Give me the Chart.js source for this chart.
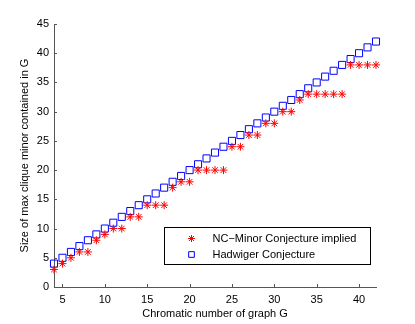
<!DOCTYPE html>
<html>
<head>
<meta charset="utf-8">
<script src="https://cdn.jsdelivr.net/npm/chart.js@4"></script>
<style>
  html, body { margin: 0; padding: 0; background: #fff; }
  #wrap { width: 415px; height: 324px; }
</style>
</head>
<body>
<div id="wrap"><canvas id="myChart" width="415" height="324"></canvas></div>
<script>
let chromatic = [4, 5, 6, 7, 8, 9, 10, 11, 12, 13, 14, 15, 16, 17, 18, 19, 20, 21, 22, 23,
  24, 25, 26, 27, 28, 29, 30, 31, 32, 33, 34, 35, 36, 37, 38, 39, 40, 41, 42];
let ncMinor = [3, 4, 5, 6, 6, 8, 9, 10, 10, 12, 12, 14, 14, 14, 17, 18, 18, 20, 20, 20,
  20, 24, 24, 26, 26, 28, 28, 30, 30, 32, 33, 33, 33, 33, 33, 38, 38, 38, 38];
let hadwiger = [4, 5, 6, 7, 8, 9, 10, 11, 12, 13, 14, 15, 16, 17, 18, 19, 20, 21, 22, 23,
  24, 25, 26, 27, 28, 29, 30, 31, 32, 33, 34, 35, 36, 37, 38, 39, 40, 41, 42];
let seriesNames = ["NC\u2212Minor Conjecture implied", "Hadwiger Conjecture"];
let xTicks = [5, 10, 15, 20, 25, 30, 35, 40];
let yTicks = [0, 5, 10, 15, 20, 25, 30, 35, 40, 45];
let xTitle = "Chromatic number of graph G";
let yTitle = "Size of max clique minor contained in G";

const font = { family: "'Liberation Sans', Arial, sans-serif", size: 11 };
const axisColor = "#555";

// matlab style ticks point inward, so draw them by hand
const innerTicks = {
  id: "innerTicks",
  afterDatasetsDraw(chart) {
    const ctx = chart.ctx;
    const a = chart.chartArea;
    const xs = chart.scales.x, ys = chart.scales.y;
    ctx.save();
    ctx.strokeStyle = axisColor;
    ctx.lineWidth = 1;
    ctx.beginPath();
    xTicks.forEach((v) => {
      const px = Math.round(xs.getPixelForValue(v)) + 0.5;
      ctx.moveTo(px, a.bottom);
      ctx.lineTo(px, a.bottom - 3);
    });
    yTicks.forEach((v) => {
      const py = Math.round(ys.getPixelForValue(v)) + 0.5;
      ctx.moveTo(a.left, py);
      ctx.lineTo(a.left + 3, py);
    });
    ctx.stroke();
    ctx.restore();
  },
};

// legend box inside the plot, lower right
const boxLegend = {
  id: "boxLegend",
  afterDraw(chart) {
    const ctx = chart.ctx;
    const x0 = 164.5, y0 = 227.5, w = 206, h = 37;
    ctx.save();
    ctx.fillStyle = "#fff";
    ctx.fillRect(x0, y0, w, h);
    ctx.strokeStyle = "#000";
    ctx.lineWidth = 1;
    ctx.strokeRect(x0, y0, w, h);
    ctx.font = "11px " + font.family;
    ctx.textBaseline = "middle";
    chart.data.datasets.forEach((ds, i) => {
      const cy = y0 + 11 + i * 16;
      ctx.strokeStyle = ds.borderColor;
      ctx.fillStyle = ds.backgroundColor;
      Chart.helpers.drawPoint(ctx, {
        pointStyle: ds.pointStyle,
        radius: i === 0 ? 3.5 : 4,
        borderWidth: 1,
      }, x0 + 27, cy);
      ctx.fillStyle = "#000";
      ctx.fillText(ds.label, x0 + 48, cy);
    });
    ctx.restore();
  },
};

const ctx = document.getElementById("myChart");

new Chart(ctx, {
  type: "scatter",
  data: {
    datasets: [
      {
        label: seriesNames[0],
        data: chromatic.map((c, i) => ({ x: c, y: ncMinor[i] })),
        pointStyle: "star",
        pointRadius: 4,
        borderColor: "#ff0000",
        backgroundColor: "#ff0000",
        pointBorderWidth: 1,
      },
      {
        label: seriesNames[1],
        data: chromatic.map((c, i) => ({ x: c, y: hadwiger[i] })),
        pointStyle: "rect",
        pointRadius: 5,
        borderColor: "#0000ff",
        backgroundColor: "rgba(255,255,255,0)",
        pointBorderWidth: 1,
      },
    ],
  },
  options: {
    responsive: false,
    animation: false,
    events: [],
    clip: false,
    layout: { padding: { top: 24, right: 39, left: 18, bottom: 3 } },
    plugins: {
      legend: { display: false },
      tooltip: { enabled: false },
    },
    scales: {
      x: {
        type: "linear",
        min: 4,
        max: 42,
        afterBuildTicks: (s) => { s.ticks = xTicks.map((v) => ({ value: v })); },
        afterFit: (s) => { s.height = 34; },
        grid: { display: false, drawTicks: false },
        border: { color: axisColor, width: 1 },
        ticks: { color: "#000", font: font, padding: 6, maxRotation: 0 },
        title: { display: true, text: xTitle, color: "#000", font: font, padding: { top: 1, bottom: 0 } },
      },
      y: {
        type: "linear",
        min: 0,
        max: 45,
        afterBuildTicks: (s) => { s.ticks = yTicks.map((v) => ({ value: v })); },
        afterFit: (s) => { s.width = 36; },
        grid: { display: false, drawTicks: false },
        border: { color: axisColor, width: 1 },
        ticks: { color: "#000", font: font, padding: 5 },
        title: { display: true, text: yTitle, color: "#000", font: font, padding: { top: 0, bottom: 0 } },
      },
    },
  },
  plugins: [innerTicks, boxLegend],
});
</script>
</body>
</html>
